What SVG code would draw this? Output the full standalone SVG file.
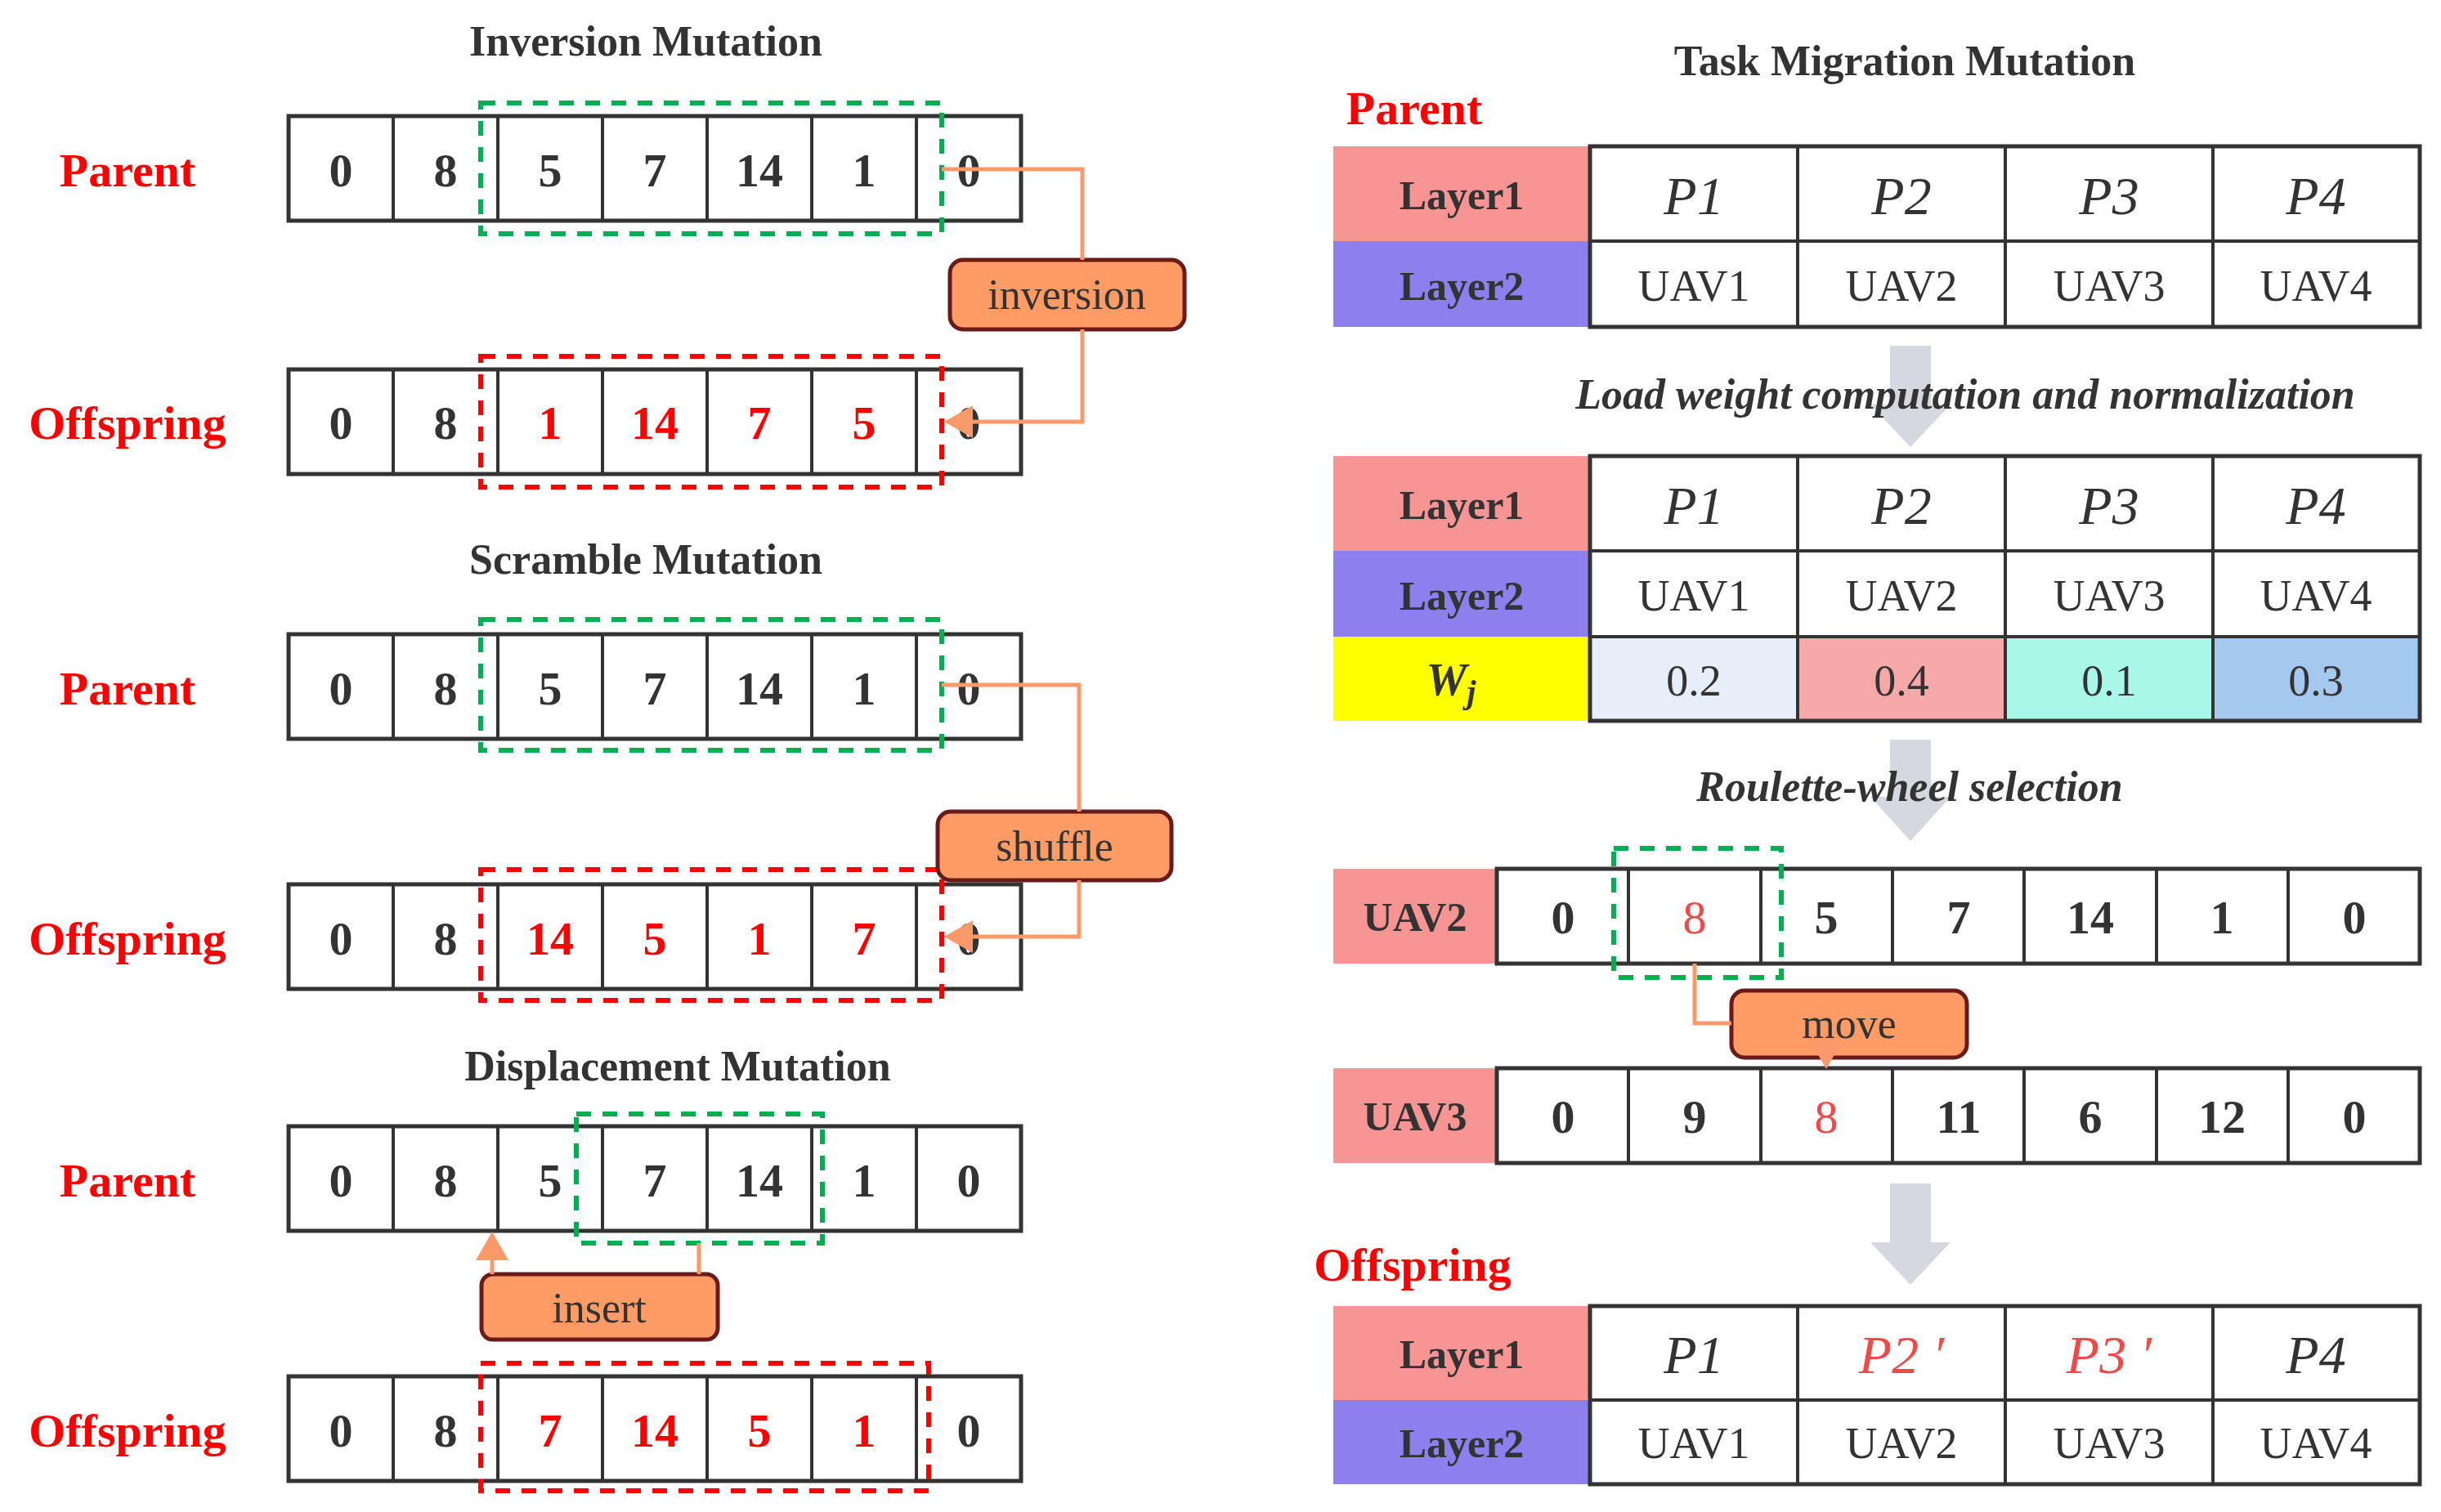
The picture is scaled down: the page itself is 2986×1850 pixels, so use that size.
<svg xmlns="http://www.w3.org/2000/svg" width="2986" height="1850" viewBox="0 0 2986 1850">
<style>
text{font-family:"Liberation Serif","Times New Roman",serif;text-anchor:middle;dominant-baseline:central}
.t{font-size:52px;font-weight:bold;fill:#333}
.lab{font-size:58px;font-weight:bold;fill:#f00}
.n{font-size:58px;font-weight:bold;fill:#333}
.r{fill:#f00}
.c{fill:#fff;stroke:#333;stroke-width:5}
.gd{fill:none;stroke:#00b050;stroke-width:6;stroke-dasharray:18,14}
.rd{fill:none;stroke:#f00;stroke-width:6;stroke-dasharray:18,14}
.box{fill:#ff9c66;stroke:#6b1a1a;stroke-width:5}
.bt{font-size:52px;fill:#333}
.ln{fill:none;stroke:#fa9a6a;stroke-width:5}
.ly{font-size:50px;font-weight:bold;fill:#333}
.p{font-size:66px;font-style:italic;fill:#333}
.u{font-size:54px;fill:#333}
.it{font-size:52px;font-style:italic;font-weight:bold;fill:#333}
.ga{fill:#d5d8de}
</style>
<defs>
<marker id="ah" markerWidth="8" markerHeight="8" refX="6" refY="4" orient="auto" markerUnits="strokeWidth"><path d="M0,0 L7,4 L0,8 Z" fill="#fa9a6a"/></marker>
<g id="row7"><rect class="c" x="0" y="0" width="896" height="128"/><path d="M128,0V128M256,0V128M384,0V128M512,0V128M640,0V128M768,0V128" stroke="#333" stroke-width="4"/></g>
</defs>

<!-- grey arrows -->
<g id="grey-arrows">
<path class="ga" d="M2312,423H2362V495H2386L2337,547L2288,495H2312Z"/>
<path class="ga" d="M2312,905H2362V975H2386L2337,1029L2288,975H2312Z"/>
<path class="ga" d="M2312,1448H2362V1520H2386L2337,1572L2288,1520H2312Z"/>
</g>

<!-- Inversion -->
<g id="inversion">
<text class="t" x="790" y="50">Inversion Mutation</text>
<text class="lab" x="156" y="208">Parent</text>
<use href="#row7" x="353" y="142"/>
<g class="n"><text x="417" y="208">0</text><text x="545" y="208">8</text><text x="673" y="208">5</text><text x="801" y="208">7</text><text x="929" y="208">14</text><text x="1057" y="208">1</text><text x="1185" y="208">0</text></g>
<rect class="gd" x="588" y="126" width="564" height="160"/>
<text class="lab" x="156" y="517">Offspring</text>
<use href="#row7" x="353" y="452"/>
<g class="n"><text x="417" y="517">0</text><text x="545" y="517">8</text><text class="r" x="673" y="517">1</text><text class="r" x="801" y="517">14</text><text class="r" x="929" y="517">7</text><text class="r" x="1057" y="517">5</text><text x="1185" y="517">0</text></g>
<rect class="rd" x="588" y="436" width="564" height="160"/>
</g>
<g id="inversion-box"><rect class="box" x="1162" y="318" width="287" height="85" rx="16"/><text class="bt" x="1305" y="360">inversion</text></g>

<!-- Scramble -->
<g id="scramble">
<text class="t" x="790" y="684">Scramble Mutation</text>
<text class="lab" x="156" y="842">Parent</text>
<use href="#row7" x="353" y="776"/>
<g class="n"><text x="417" y="842">0</text><text x="545" y="842">8</text><text x="673" y="842">5</text><text x="801" y="842">7</text><text x="929" y="842">14</text><text x="1057" y="842">1</text><text x="1185" y="842">0</text></g>
<rect class="gd" x="588" y="758" width="564" height="160"/>
<text class="lab" x="156" y="1148">Offspring</text>
<use href="#row7" x="353" y="1082"/>
<g class="n"><text x="417" y="1148">0</text><text x="545" y="1148">8</text><text class="r" x="673" y="1148">14</text><text class="r" x="801" y="1148">5</text><text class="r" x="929" y="1148">1</text><text class="r" x="1057" y="1148">7</text><text x="1185" y="1148">0</text></g>
<rect class="rd" x="588" y="1064" width="564" height="160"/>
</g>
<g id="shuffle-box"><rect class="box" x="1147" y="993" width="286" height="84" rx="16"/><text class="bt" x="1290" y="1035">shuffle</text></g>

<!-- Displacement -->
<g id="displacement">
<text class="t" x="829" y="1304">Displacement Mutation</text>
<text class="lab" x="156" y="1444">Parent</text>
<use href="#row7" x="353" y="1378"/>
<g class="n"><text x="417" y="1444">0</text><text x="545" y="1444">8</text><text x="673" y="1444">5</text><text x="801" y="1444">7</text><text x="929" y="1444">14</text><text x="1057" y="1444">1</text><text x="1185" y="1444">0</text></g>
<rect class="gd" x="705" y="1363" width="301" height="158"/>
<text class="lab" x="156" y="1750">Offspring</text>
<use href="#row7" x="353" y="1684"/>
<g class="n"><text x="417" y="1750">0</text><text x="545" y="1750">8</text><text class="r" x="673" y="1750">7</text><text class="r" x="801" y="1750">14</text><text class="r" x="929" y="1750">5</text><text class="r" x="1057" y="1750">1</text><text x="1185" y="1750">0</text></g>
<rect class="rd" x="588" y="1668" width="548" height="156"/>
</g>
<g id="insert-box"><rect class="box" x="589" y="1559" width="289" height="80" rx="14"/><text class="bt" x="733" y="1600">insert</text></g>

<!-- Task migration -->
<g id="task-migration">
<text class="t" x="2330" y="74">Task Migration Mutation</text>
<text class="lab" x="1730" y="132">Parent</text>
<rect x="1631" y="179" width="314" height="116" fill="#f79494"/>
<rect x="1631" y="295" width="314" height="105" fill="#8f7fee"/>
<rect class="c" x="1945" y="179" width="1015" height="221"/>
<path d="M1945,295H2960M2199,179V400M2453,179V400M2707,179V400" stroke="#333" stroke-width="4"/>
<text class="ly" x="1788" y="239">Layer1</text><text class="ly" x="1788" y="350">Layer2</text>
<g class="p"><text x="2072" y="239">P1</text><text x="2326" y="239">P2</text><text x="2580" y="239">P3</text><text x="2833" y="239">P4</text></g>
<g class="u"><text x="2072" y="350">UAV1</text><text x="2326" y="350">UAV2</text><text x="2580" y="350">UAV3</text><text x="2833" y="350">UAV4</text></g>
</g>
<text class="it" x="2404" y="482">Load weight computation and normalization</text>

<g id="weight-table">
<rect x="1631" y="558" width="314" height="116" fill="#f79494"/>
<rect x="1631" y="674" width="314" height="105" fill="#8f7fee"/>
<rect x="1631" y="779" width="314" height="103" fill="#ffff00"/>
<rect x="1945" y="779" width="254" height="103" fill="#e6eefa"/>
<rect x="2199" y="779" width="254" height="103" fill="#f7a8a8"/>
<rect x="2453" y="779" width="254" height="103" fill="#a8f7e8"/>
<rect x="2707" y="779" width="253" height="103" fill="#a4c8ee"/>
<rect x="1945" y="558" width="1015" height="324" fill="none" stroke="#333" stroke-width="5"/>
<path d="M1945,674H2960M1945,779H2960M2199,558V882M2453,558V882M2707,558V882" stroke="#333" stroke-width="4"/>
<text class="ly" x="1788" y="618">Layer1</text><text class="ly" x="1788" y="729">Layer2</text>
<text x="1775" y="832" font-size="56" font-style="italic" font-weight="bold" fill="#333">W<tspan font-size="40" dy="14">j</tspan></text>
<g class="p"><text x="2072" y="618">P1</text><text x="2326" y="618">P2</text><text x="2580" y="618">P3</text><text x="2833" y="618">P4</text></g>
<g class="u"><text x="2072" y="729">UAV1</text><text x="2326" y="729">UAV2</text><text x="2580" y="729">UAV3</text><text x="2833" y="729">UAV4</text><text x="2072" y="833">0.2</text><text x="2326" y="833">0.4</text><text x="2580" y="833">0.1</text><text x="2833" y="833">0.3</text></g>
</g>
<text class="it" x="2336" y="962">Roulette-wheel selection</text>

<g id="uav2-row">
<rect x="1631" y="1063" width="200" height="116" fill="#f79494"/>
<rect class="c" x="1831" y="1063" width="1129" height="116"/>
<path d="M1992,1063V1179M2154,1063V1179M2315,1063V1179M2476,1063V1179M2638,1063V1179M2799,1063V1179" stroke="#333" stroke-width="4"/>
<text class="ly" x="1731" y="1122" font-size="54">UAV2</text>
<g class="n"><text x="1912" y="1122">0</text><text x="2073" y="1122" fill="#f24848" font-weight="normal">8</text><text x="2234" y="1122">5</text><text x="2396" y="1122">7</text><text x="2557" y="1122">14</text><text x="2718" y="1122">1</text><text x="2880" y="1122">0</text></g>
<rect class="gd" x="1974" y="1038" width="205" height="158"/>
</g>
<g id="move-box"><rect class="box" x="2118" y="1212" width="288" height="82" rx="16"/><text class="bt" x="2262" y="1252">move</text></g>
<g id="uav3-row">
<rect x="1631" y="1307" width="200" height="116" fill="#f79494"/>
<rect class="c" x="1831" y="1307" width="1129" height="116"/>
<path d="M1992,1307V1423M2154,1307V1423M2315,1307V1423M2476,1307V1423M2638,1307V1423M2799,1307V1423" stroke="#333" stroke-width="4"/>
<text class="ly" x="1731" y="1366" font-size="54">UAV3</text>
<g class="n"><text x="1912" y="1366">0</text><text x="2073" y="1366">9</text><text x="2234" y="1366" fill="#f24848" font-weight="normal">8</text><text x="2396" y="1366">11</text><text x="2557" y="1366">6</text><text x="2718" y="1366">12</text><text x="2880" y="1366">0</text></g>
</g>

<g id="offspring-table">
<text class="lab" x="1728" y="1547">Offspring</text>
<rect x="1631" y="1598" width="314" height="115" fill="#f79494"/>
<rect x="1631" y="1713" width="314" height="103" fill="#8f7fee"/>
<rect class="c" x="1945" y="1598" width="1015" height="218"/>
<path d="M1945,1713H2960M2199,1598V1816M2453,1598V1816M2707,1598V1816" stroke="#333" stroke-width="4"/>
<text class="ly" x="1788" y="1657">Layer1</text><text class="ly" x="1788" y="1766">Layer2</text>
<g class="p"><text x="2072" y="1657">P1</text><text x="2326" y="1657" fill="#f24848">P2 ′</text><text x="2580" y="1657" fill="#f24848">P3 ′</text><text x="2833" y="1657">P4</text></g>
<g class="u"><text x="2072" y="1766">UAV1</text><text x="2326" y="1766">UAV2</text><text x="2580" y="1766">UAV3</text><text x="2833" y="1766">UAV4</text></g>
</g>

<g id="connectors">
<path class="ln" d="M1152,207H1324V318"/>
<path class="ln" d="M1324,403V516H1160" marker-end="url(#ah)"/>
<path class="ln" d="M1152,838H1320V993"/>
<path class="ln" d="M1320,1077V1146H1160" marker-end="url(#ah)"/>
<path class="ln" d="M855,1521V1559"/>
<path class="ln" d="M602,1559V1512" marker-end="url(#ah)"/>
<path class="ln" d="M2073,1179V1252H2118"/>
<path class="ln" d="M2234,1294V1303" marker-end="url(#ah)"/>
</g>
</svg>
